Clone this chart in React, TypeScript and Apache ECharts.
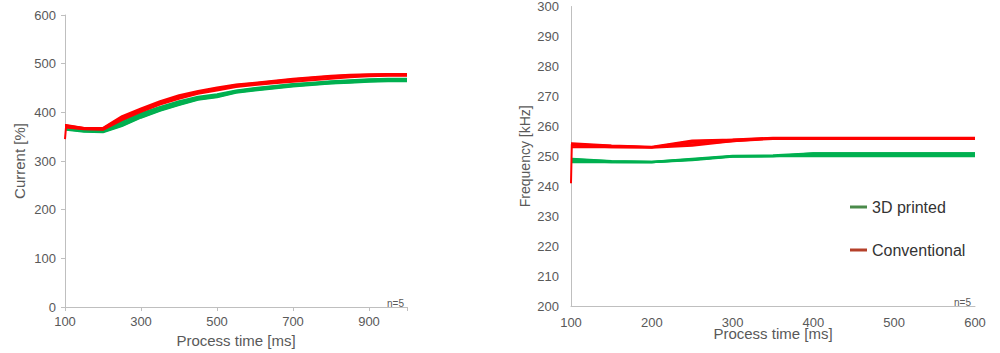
import React, { useEffect, useRef } from "react";
import * as echarts from "echarts";

// Left chart: Current [%] vs process time
const leftTimes = [100, 103, 150, 200, 250, 300, 350, 400, 450, 500, 550, 600, 650, 700, 750, 800, 850, 900, 950, 1000];
const leftRed1 = [345, 373, 368, 367, 390, 406, 421, 433, 442, 449, 456, 460, 464, 468, 471, 474, 476, 477, 478, 478];
const leftRed2 = [372, 372, 367, 366, 388, 405, 420, 432, 441, 448, 455, 459, 463, 467, 470, 473, 475, 476, 477, 477];
const leftRed3 = [370, 370, 366, 365, 386, 403, 418, 430, 440, 447, 454, 458, 462, 466, 469, 472, 474, 475, 476, 476];
const leftRed4 = [374, 374, 368, 368, 392, 408, 423, 435, 444, 451, 457, 461, 465, 469, 472, 475, 477, 478, 479, 479];
const leftRed5 = [369, 369, 365, 364, 384, 401, 416, 428, 438, 445, 452, 456, 460, 463, 466, 469, 472, 474, 475, 475];
const leftGreen1 = [366, 366, 362, 361, 376, 393, 407, 419, 429, 434, 443, 448, 452, 456, 459, 462, 464, 466, 467, 467];
const leftGreen2 = [365, 365, 361, 360, 373, 390, 404, 416, 427, 432, 441, 446, 450, 454, 457, 460, 462, 464, 465, 465];
const leftGreen3 = [367, 367, 363, 362, 379, 395, 409, 421, 430, 435, 444, 449, 453, 457, 460, 463, 465, 467, 468, 468];
const leftGreen4 = [364, 364, 360, 359, 372, 389, 403, 415, 426, 431, 440, 445, 449, 453, 456, 459, 461, 463, 464, 464];
const leftGreen5 = [366, 366, 362, 362, 382, 398, 411, 423, 432, 437, 445, 450, 454, 458, 461, 464, 466, 468, 469, 469];

// Right chart: Frequency [kHz] vs process time
const rightTimes = [100, 101, 150, 200, 250, 300, 350, 400, 450, 500, 550, 600];
const rightRed1 = [241, 254, 253.5, 253, 255, 255.5, 256, 256, 256, 256, 256, 256];
const rightRed2 = [254, 254, 253.3, 253, 254.5, 255.3, 256, 256, 256, 256, 256, 256];
const rightRed3 = [253.5, 253.5, 253, 253, 254, 255, 256, 256, 256, 256, 256, 256];
const rightRed4 = [253, 253, 253, 252.8, 253.5, 255, 255.8, 255.8, 255.8, 255.8, 255.8, 255.8];
const rightRed5 = [254.3, 254.3, 253.6, 253.2, 255.3, 255.6, 256.2, 256.2, 256.2, 256.2, 256.2, 256.2];
const rightGreen1 = [249, 249, 248.3, 248.2, 249, 250, 250, 251, 251, 251, 251, 251];
const rightGreen2 = [248.5, 248.5, 248, 248, 248.8, 250, 250, 250.5, 250.5, 250.5, 250.5, 250.5];
const rightGreen3 = [248, 248, 248, 248, 248.7, 249.8, 250, 250, 250, 250, 250, 250];
const rightGreen4 = [249.2, 249.2, 248.4, 248.2, 249.2, 250.2, 250.3, 251, 251, 251, 251, 251];
const rightGreen5 = [248.3, 248.3, 248.1, 248, 248.9, 249.9, 250.1, 250.2, 250.2, 250.2, 250.2, 250.2];

const leftRed = [leftRed1, leftRed2, leftRed3, leftRed4, leftRed5];
const leftGreen = [leftGreen1, leftGreen2, leftGreen3, leftGreen4, leftGreen5];
const rightRed = [rightRed1, rightRed2, rightRed3, rightRed4, rightRed5];
const rightGreen = [rightGreen1, rightGreen2, rightGreen3, rightGreen4, rightGreen5];

const legendNames = ["3D printed", "Conventional"];
const sampleNote = "n=5";

const FONT = "'Liberation Sans', Arial, sans-serif";
const RED = "#FF0000";
const GREEN = "#00B050";
const TEXT = "#595959";
const AXIS = "#BFBFBF";

function pairs(times: number[], vals: number[]) {
  return times.map((t, i) => [t, vals[i]]);
}

function lineSeries(name: string, idx: number, times: number[], vals: number[], color: string) {
  return {
    name,
    type: "line",
    xAxisIndex: idx,
    yAxisIndex: idx,
    data: pairs(times, vals),
    showSymbol: false,
    symbol: "none",
    silent: true,
    lineStyle: { color, width: 2 },
    itemStyle: { color },
  };
}

export default function App() {
  const ref = useRef<HTMLDivElement>(null);
  useEffect(() => {
    document.body.style.margin = "0";
    const chart = echarts.init(ref.current!, undefined, { renderer: "svg" });
    const series: any[] = [];
    leftGreen.forEach((v, i) => series.push(lineSeries("leftG" + i, 0, leftTimes, v, GREEN)));
    leftRed.forEach((v, i) => series.push(lineSeries("leftR" + i, 0, leftTimes, v, RED)));
    rightGreen.forEach((v, i) => series.push(lineSeries("rightG" + i, 1, rightTimes, v, GREEN)));
    rightRed.forEach((v, i) => series.push(lineSeries("rightR" + i, 1, rightTimes, v, RED)));
    series.push({
      name: legendNames[0], type: "line", xAxisIndex: 1, yAxisIndex: 1, data: [],
      lineStyle: { color: "#4A8A4A" }, itemStyle: { color: "#4A8A4A" },
    });
    series.push({
      name: legendNames[1], type: "line", xAxisIndex: 1, yAxisIndex: 1, data: [],
      lineStyle: { color: "#B5402A" }, itemStyle: { color: "#B5402A" },
    });

    const axisLabel = { color: TEXT, fontSize: 13, fontFamily: FONT };
    chart.setOption({
      animation: false,
      backgroundColor: "#ffffff",
      textStyle: { fontFamily: FONT },
      grid: [
        { left: 65, top: 15, width: 342, height: 293 },
        { left: 571, top: 6, width: 404, height: 300 },
      ],
      xAxis: [
        {
          type: "value", gridIndex: 0, min: 100, max: 1000, interval: 200,
          name: "Process time [ms]", nameLocation: "middle", nameGap: 26,
          nameTextStyle: { color: TEXT, fontSize: 15, fontFamily: FONT },
          axisLine: { lineStyle: { color: AXIS } },
          axisTick: { show: true, length: 4, lineStyle: { color: AXIS } },
          axisLabel: { ...axisLabel, margin: 8, formatter: (v: number) => (v === 1000 ? "" : String(v)) },
          splitLine: { show: false },
        },
        {
          type: "value", gridIndex: 1, min: 100, max: 600, interval: 100,
          name: "Process time [ms]", nameLocation: "middle", nameGap: 20,
          nameMoveOverlap: false,
          nameTextStyle: { color: TEXT, fontSize: 15, fontFamily: FONT },
          axisLine: { lineStyle: { color: AXIS } },
          axisTick: { show: false },
          axisLabel: { ...axisLabel, margin: 10 },
          splitLine: { show: false },
        },
      ],
      yAxis: [
        {
          type: "value", gridIndex: 0, min: 0, max: 600, interval: 100,
          name: "Current [%]", nameLocation: "middle", nameGap: 38,
          nameTextStyle: { color: TEXT, fontSize: 15, fontFamily: FONT },
          axisLine: { show: true, lineStyle: { color: AXIS } },
          axisTick: { show: true, length: 4, lineStyle: { color: AXIS } },
          axisLabel: { ...axisLabel, margin: 9 },
          splitLine: { show: false },
        },
        {
          type: "value", gridIndex: 1, min: 200, max: 300, interval: 10,
          name: "Frequency [kHz]", nameLocation: "middle", nameGap: 39,
          nameTextStyle: { color: TEXT, fontSize: 14, fontFamily: FONT },
          axisLine: { show: true, lineStyle: { color: AXIS } },
          axisTick: { show: false },
          axisLabel: { ...axisLabel, margin: 12 },
          splitLine: { show: false },
        },
      ],
      legend: {
        data: legendNames,
        orient: "vertical",
        left: 845,
        top: 192,
        icon: "rect",
        itemWidth: 17,
        itemHeight: 3,
        itemGap: 23,
        textStyle: { color: "#333333", fontSize: 16, fontFamily: FONT, lineHeight: 20 },
        selectedMode: false,
      },
      graphic: [
        { type: "text", left: 387, top: 298, style: { text: sampleNote, fill: TEXT, fontSize: 10, fontFamily: FONT } },
        { type: "text", left: 954, top: 297, style: { text: sampleNote, fill: TEXT, fontSize: 10, fontFamily: FONT } },
      ],
      series,
    });
    return () => chart.dispose();
  }, []);
  return <div ref={ref} style={{ width: 1000, height: 353 }} />;
}
